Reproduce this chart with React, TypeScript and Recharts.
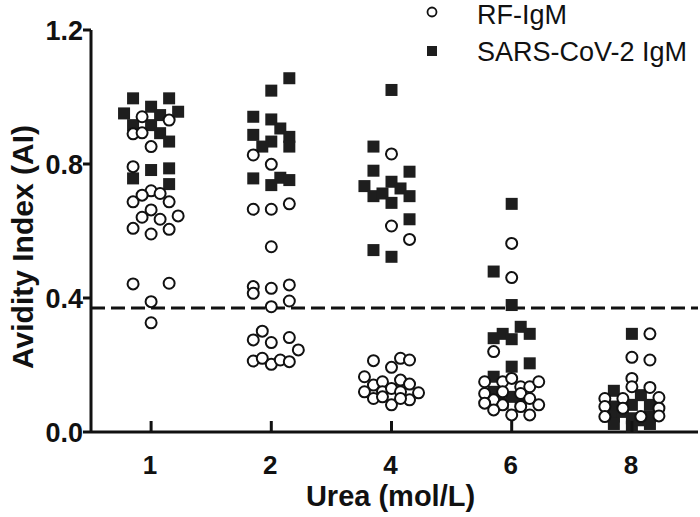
import { ScatterChart, Scatter, XAxis, YAxis, ReferenceLine, Legend } from 'recharts';

const UREA = ['1', '2', '4', '6', '8'];
const Y_TICKS = [0, 0.4, 0.8, 1.2];
const CUTOFF = 0.37;

// [jitter slot, avidity index]
const rf1 = [[-1, 0.941], [2, 0.931], [-2, 0.89], [-1, 0.893], [0, 0.852], [-2, 0.792], [0, 0.72], [-1, 0.707], [1, 0.712], [-2, 0.687], [2, 0.687], [0, 0.663], [-1, 0.641], [1, 0.635], [3, 0.645], [-2, 0.608], [2, 0.605], [0, 0.591], [-2, 0.442], [2, 0.444], [0, 0.389], [0, 0.326]];
const rf2 = [[-2, 0.827], [0, 0.799], [-2, 0.665], [0, 0.665], [2, 0.681], [0, 0.553], [-2, 0.434], [-2, 0.414], [0, 0.429], [2, 0.439], [2, 0.391], [0, 0.374], [-1, 0.301], [-2, 0.275], [0, 0.267], [2, 0.282], [3, 0.245], [-2, 0.212], [-1, 0.22], [0, 0.202], [1, 0.215], [2, 0.21]];
const rf4 = [[0, 0.83], [0, 0.615], [2, 0.575], [-2, 0.213], [0, 0.193], [1, 0.22], [2, 0.215], [-3, 0.165], [-2, 0.14], [-1, 0.15], [1, 0.155], [2, 0.143], [-3, 0.12], [-1, 0.12], [0, 0.13], [1, 0.12], [3, 0.117], [-2, 0.1], [0, 0.081], [2, 0.096], [-1, 0.105], [1, 0.1]];
const rf6 = [[0, 0.563], [0, 0.461], [-2, 0.24], [-3, 0.15], [-1, 0.15], [0, 0.16], [1, 0.135], [2, 0.135], [3, 0.15], [-3, 0.115], [-1, 0.12], [1, 0.115], [-2, 0.096], [2, 0.1], [-3, 0.086], [-1, 0.081], [1, 0.076], [3, 0.081], [-2, 0.066], [0, 0.051], [2, 0.051]];
const rf8 = [[2, 0.293], [0, 0.223], [2, 0.215], [0, 0.16], [0, 0.135], [2, 0.133], [-3, 0.1], [-1, 0.1], [3, 0.103], [-3, 0.076], [-1, 0.071], [3, 0.071], [-3, 0.046], [1, 0.046], [3, 0.048]];

const sars1 = [[-2, 0.996], [2, 0.996], [0, 0.971], [-3, 0.951], [3, 0.956], [1, 0.946], [-2, 0.916], [0, 0.916], [1, 0.892], [2, 0.867], [0, 0.782], [2, 0.787], [-2, 0.757], [2, 0.74]];
const sars2 = [[2, 1.056], [0, 1.019], [-2, 0.941], [0, 0.933], [1, 0.906], [-2, 0.887], [2, 0.881], [0, 0.867], [-1, 0.852], [2, 0.852], [-2, 0.757], [1, 0.759], [2, 0.752], [0, 0.737]];
const sars4 = [[0, 1.021], [-2, 0.852], [-2, 0.78], [2, 0.777], [-3, 0.734], [0, 0.747], [1, 0.727], [-2, 0.704], [-1, 0.712], [2, 0.704], [0, 0.684], [2, 0.635], [-2, 0.543], [0, 0.523]];
const sars6 = [[0, 0.681], [-2, 0.479], [0, 0.379], [1, 0.314], [-1, 0.293], [2, 0.293], [-2, 0.28], [0, 0.277], [0, 0.195], [2, 0.205], [-2, 0.165], [-2, 0.12], [-2, 0.096], [0, 0.105], [1, 0.09], [-1, 0.085]];
const sars8 = [[0, 0.293], [-2, 0.123], [1, 0.11], [-2, 0.076], [0, 0.081], [2, 0.081], [-2, 0.046], [0, 0.041], [2, 0.046], [-2, 0.024], [0, 0.016], [2, 0.024], [-1, 0.06], [1, 0.035]];

const JITTER = 0.075;
const toPoints = (groups: number[][][]) =>
  groups.flatMap((g, gi) => g.map(([j, v]) => ({ x: gi + 1 + j * JITTER, y: v })));

const rfData = toPoints([rf1, rf2, rf4, rf6, rf8]);
const sarsData = toPoints([sars1, sars2, sars4, sars6, sars8]);

const FONT = '"Liberation Sans", Arial, sans-serif';

const Circle = (p: any) => (
  <circle cx={p.cx} cy={p.cy} r={5.5} fill="#fff" stroke="#111" strokeWidth={2} />
);
const Square = (p: any) => (
  <rect x={p.cx - 6} y={p.cy - 6} width={12} height={12} fill="#1e1e1e" />
);

const XTick = (p: any) => (
  <g>
    <line x1={p.x} x2={p.x} y1={p.y} y2={p.y - 11} stroke="#111" strokeWidth={3} />
    <text x={p.x - 1} y={p.y + 42} textAnchor="middle" fontFamily={FONT} fontWeight="bold" fontSize={26} fill="#111">
      {UREA[p.payload.value - 1]}
    </text>
  </g>
);

const LegendBox = () => (
  <div style={{ position: 'relative', width: 280, height: 70, fontFamily: FONT, fontSize: 27, color: '#111' }}>
    <svg width={20} height={70} style={{ position: 'absolute', left: 2, top: 0 }}>
      <circle cx={10} cy={12} r={4.5} fill="#fff" stroke="#111" strokeWidth={1.8} />
      <rect x={5} y={46} width={10} height={10} fill="#1e1e1e" />
    </svg>
    <div style={{ position: 'absolute', left: 57, top: 0, lineHeight: '30px', whiteSpace: 'nowrap' }}>RF-IgM</div>
    <div style={{ position: 'absolute', left: 57, top: 37, lineHeight: '30px', whiteSpace: 'nowrap' }}>SARS-CoV-2 IgM</div>
  </div>
);

export default function App() {
  return (
    <div style={{ position: 'absolute', left: 0, top: 0, background: '#fff' }}>
      <ScatterChart width={700} height={517} margin={{ top: 30, right: 2, bottom: 0, left: 0 }}>
        <XAxis
          type="number"
          dataKey="x"
          domain={[0.5, 5.55]}
          ticks={[1, 2, 3, 4, 5]}
          allowDataOverflow
          height={85}
          tickSize={0}
          tickMargin={0}
          tickLine={false}
          tick={<XTick />}
          axisLine={{ stroke: '#111', strokeWidth: 3 }}
          label={{
            content: (props: any) => (
              <text
                x={props.viewBox.x + props.viewBox.width / 2 - 4}
                y={props.viewBox.y + 74}
                textAnchor="middle"
                fontFamily={FONT}
                fontWeight="bold"
                fontSize={29}
                fill="#111"
              >
                Urea (mol/L)
              </text>
            ),
          }}
        />
        <YAxis
          type="number"
          dataKey="y"
          domain={[0, 1.2]}
          ticks={Y_TICKS}
          width={91}
          tickSize={8}
          tickMargin={0}
          tickFormatter={(v: number) => v.toFixed(1)}
          tick={{ fontFamily: FONT, fontWeight: 'bold', fontSize: 27, fill: '#111' }}
          tickLine={{ stroke: '#111', strokeWidth: 3 }}
          axisLine={{ stroke: '#111', strokeWidth: 3 }}
          label={{
            content: (props: any) => {
              const cx = 22;
              const cy = props.viewBox.y + props.viewBox.height / 2 + 16;
              return (
                <text
                  x={cx}
                  y={cy}
                  transform={`rotate(-90 ${cx} ${cy})`}
                  textAnchor="middle"
                  dominantBaseline="central"
                  fontFamily={FONT}
                  fontWeight="bold"
                  fontSize={30}
                  fill="#111"
                >
                  Avidity Index (AI)
                </text>
              );
            },
          }}
        />
        <ReferenceLine y={CUTOFF} stroke="#111" strokeWidth={3} strokeDasharray="14 6" />
        <Legend
          layout="horizontal"
          verticalAlign="middle"
          align="center"
          wrapperStyle={{ top: 0, left: 420, width: 280, height: 70 }}
          content={() => <LegendBox />}
        />
        <Scatter name="SARS-CoV-2 IgM" data={sarsData} shape={Square} isAnimationActive={false} />
        <Scatter name="RF-IgM" data={rfData} shape={Circle} isAnimationActive={false} />
      </ScatterChart>
    </div>
  );
}
